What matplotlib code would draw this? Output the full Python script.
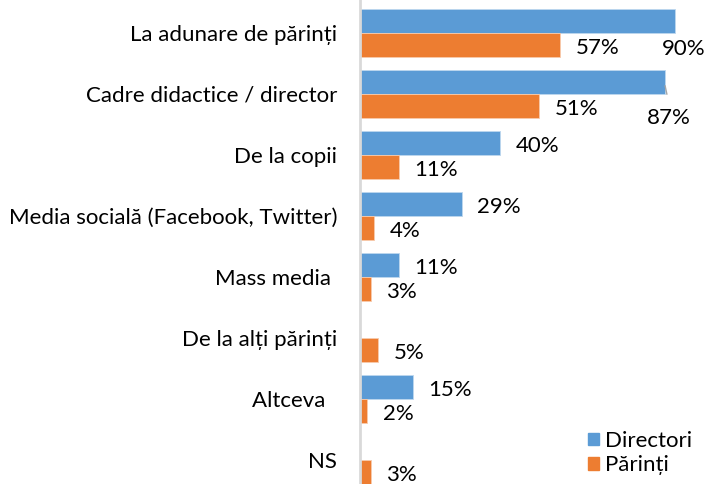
import matplotlib
matplotlib.use("Agg")
import matplotlib.pyplot as plt
from matplotlib.patches import Patch
import numpy as np

categories = ["La adunare de părinți", "Cadre didactice / director", "De la copii",
              "Media socială (Facebook, Twitter)", "Mass media ", "De la alți părinți",
              "Altceva  ", "NS"]
directori = [90, 87, 40, 29, 11, None, 15, None]
parinti = [57, 51, 11, 4, 3, 5, 2, 3]
series_names = ["Directori", "Părinți"]

blue = "#5B9BD5"
orange = "#ED7D31"

plt.rcParams['font.family'] = ['Lato', 'DejaVu Sans']
fs = 16

W, H = 706, 484
fig = plt.figure(figsize=(W / 100, H / 100), dpi=100)
ax_left = 360
ax = fig.add_axes([ax_left / W, 0, 1 - ax_left / W, 1])

px_per_pct = 3.5
group_px = 61
first_px = 33
ax.set_xlim(0, (W - ax_left) / px_per_pct)
ax.set_ylim((H - first_px) / group_px, -first_px / group_px)

y = np.arange(len(categories))
h = 24 / group_px
d_vals = np.array([v if v is not None else 0 for v in directori], dtype=float)
p_vals = np.array(parinti, dtype=float)
ax.barh(y - h / 2, d_vals, height=h, color=blue, edgecolor="#BDD7EE", linewidth=0.6)
ax.barh(y + h / 2, p_vals, height=h, color=orange, edgecolor="#F8CBAD", linewidth=0.6)

# data labels (Excel style: just outside the bar end)
for i, v in enumerate(directori):
    if v is None:
        continue
    off = (16, -3)
    if i == 0:
        off = (-13, -28)
    elif i == 1:
        off = (-18, -36)
    ax.annotate(f"{v}%", (v, i - h / 2), xytext=off, textcoords="offset pixels",
                ha="left", va="center", fontsize=fs, color="#000000")
for i, v in enumerate(parinti):
    ax.annotate(f"{v}%", (v, i + h / 2), xytext=(16, -3), textcoords="offset pixels",
                ha="left", va="center", fontsize=fs, color="#000000")

# leader line for 87%
ax.annotate("", (87, 1 - h / 2 + 1 / group_px), xytext=(3, -14), textcoords="offset pixels",
            arrowprops=dict(arrowstyle="-", color="#A6A6A6", lw=1))

ax.set_yticks(y)
ax.set_yticklabels(categories, fontsize=fs)
ax.tick_params(axis="y", length=0, pad=16.5)
ax.set_xticks([])
for s in ["top", "right", "bottom"]:
    ax.spines[s].set_visible(False)
ax.spines["left"].set_color("#D9D9D9")
ax.spines["left"].set_linewidth(2)

handles = [Patch(color=blue), Patch(color=orange)]
leg = fig.legend(handles, series_names, loc="center left",
                 bbox_to_anchor=(588 / W, 1 - 453 / H), frameon=False, fontsize=fs,
                 handlelength=0.5, handleheight=0.5, handletextpad=0.25,
                 labelspacing=0.2, borderaxespad=0, borderpad=0)

fig.savefig("out.png", dpi=100)
